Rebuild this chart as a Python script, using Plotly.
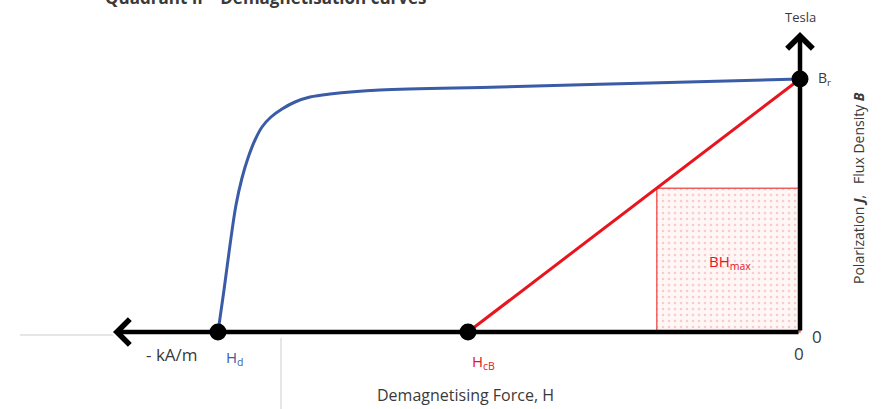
import plotly.graph_objects as go

# ---- data (H in kA/m, B in Tesla) ----
demag_H = [-1455, -1440, -1425, -1410, -1395, -1380, -1362.5, -1345, -1322.5, -1295,
           -1262.5, -1225, -1175, -1050, -750, -375, 0]
demag_B = [0.0, 0.21, 0.435, 0.635, 0.77, 0.87, 0.96, 1.025, 1.075, 1.115,
           1.15, 1.175, 1.19, 1.21, 1.225, 1.245, 1.265]
Br = 1.265
Hd = -1455
HcB = -830
BHmax_H = -358
BHmax_B = Br * (1 - abs(BHmax_H) / abs(HcB))

key_points_H = [Hd, HcB, 0]
key_points_B = [0, 0, Br]

X_RANGE = [-2000, 207.5]
Y_RANGE = [-0.385, 1.66]

BLUE = "#3a5ba6"
RED = "#e8141e"
TXT = "#3a3a3a"
FONT = "Open Sans"

fig = go.Figure()

# BH max rectangle (dotted pattern)
fig.add_trace(go.Scatter(
    x=[BHmax_H, 0, 0, BHmax_H, BHmax_H],
    y=[0, 0, BHmax_B, BHmax_B, 0],
    mode="lines", fill="toself",
    line=dict(color="rgba(235,60,60,0.8)", width=1.5),
    fillcolor="rgba(255,240,240,1)",
    fillpattern=dict(shape=".", fgcolor="rgba(230,80,80,0.5)",
                     bgcolor="rgba(255,246,246,1)", size=6, solidity=0.15),
    hoverinfo="skip", showlegend=False))

# Load line
fig.add_trace(go.Scatter(x=[HcB, 0], y=[0, Br], mode="lines",
                         line=dict(color=RED, width=3), showlegend=False))

# Demagnetisation curve
fig.add_trace(go.Scatter(x=demag_H, y=demag_B, mode="lines",
                         line=dict(color=BLUE, width=3, shape="spline", smoothing=1.0),
                         showlegend=False))

shapes = [
    dict(type="line", xref="paper", yref="y", x0=20/883, x1=113/883, y0=-0.015, y1=-0.015,
         line=dict(color="#cccccc", width=1), layer="below"),
    dict(type="line", xref="x", yref="paper", x0=-1297.5, x1=-1297.5, y0=0, y1=71/409,
         line=dict(color="#cccccc", width=1), layer="below"),
]

annotations = [
    # axes with chevron arrowheads
    dict(x=-1717.5, y=0, ax=0, ay=0, xref="x", yref="y", axref="x", ayref="y",
         showarrow=True, arrowhead=4, arrowwidth=4.5, arrowsize=1.1, arrowcolor="black", text=""),
    dict(x=0, y=1.5, ax=0, ay=0, xref="x", yref="y", axref="x", ayref="y",
         showarrow=True, arrowhead=4, arrowwidth=4.5, arrowsize=1.1, arrowcolor="black", text=""),
    dict(x=103/883, y=1.0, xref="paper", yref="paper", xanchor="left", yanchor="middle",
         yshift=3,
         text="<b>Quadrant II \u2013 Demagnetisation curves</b>", showarrow=False,
         font=dict(family=FONT, size=17, color=TXT)),
    dict(x=0, y=1.575, text="Tesla", showarrow=False, font=dict(family=FONT, size=13, color=TXT)),
    dict(x=40, y=1.27, xanchor="left", text="B<sub>r</sub>", showarrow=False,
         font=dict(family=FONT, size=14, color=TXT)),
    dict(x=145, y=0.72, textangle=-90,
         text="Polarization <b><i>J</i></b>,   Flux Density <b><i>B</i></b>", showarrow=False,
         font=dict(family=FONT, size=14, color=TXT)),
    dict(x=25, y=-0.02, xanchor="left", text="0", showarrow=False,
         font=dict(family=FONT, size=17, color=TXT)),
    dict(x=-2.5, y=-0.105, text="0", showarrow=False, font=dict(family=FONT, size=17, color=TXT)),
    dict(x=-1570, y=-0.11, text="- kA/m", showarrow=False,
         font=dict(family=FONT, size=17, color=TXT)),
    dict(x=-1412, y=-0.13, text="H<sub>d</sub>", showarrow=False,
         font=dict(family=FONT, size=15, color=BLUE)),
    dict(x=-792, y=-0.15, text="H<sub>cB</sub>", showarrow=False,
         font=dict(family=FONT, size=15, color=RED)),
    dict(x=-837.5, y=-0.315, text="Demagnetising Force, H", showarrow=False,
         font=dict(family=FONT, size=16, color=TXT)),
    dict(x=-175, y=0.35, text="BH<sub>max</sub>", showarrow=False,
         font=dict(family=FONT, size=15, color=RED)),
]

# key points
fig.add_trace(go.Scatter(x=key_points_H, y=key_points_B, mode="markers",
                         marker=dict(color="black", size=17), showlegend=False))

fig.update_layout(
    width=883, height=409, margin=dict(l=0, r=0, t=0, b=0),
    paper_bgcolor="white", plot_bgcolor="white",
    xaxis=dict(range=X_RANGE, visible=False, fixedrange=True),
    yaxis=dict(range=Y_RANGE, visible=False, fixedrange=True),
    shapes=shapes, annotations=annotations, showlegend=False,
)

fig.write_html("out.html")
